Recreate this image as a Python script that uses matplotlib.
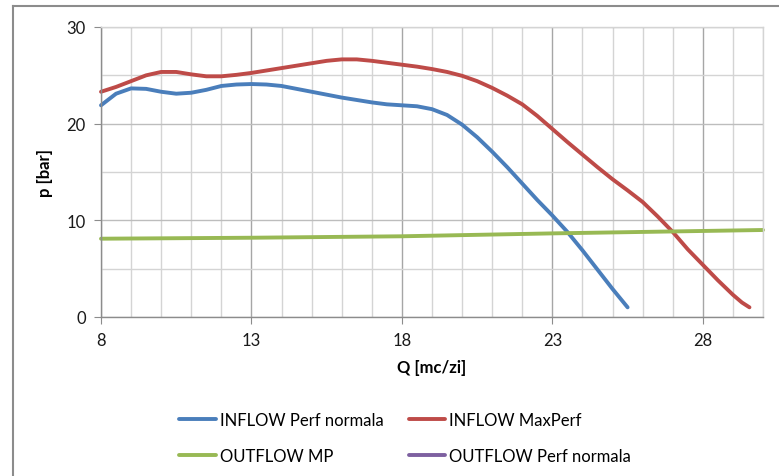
import matplotlib
matplotlib.use("Agg")
import matplotlib.pyplot as plt
from matplotlib.lines import Line2D
from matplotlib.ticker import MultipleLocator, FixedLocator

plt.rcParams['font.family'] = ['Lato', 'DejaVu Sans']

# Flow rate Q [mc/zi] and pressure p [bar]
q_inflow_normal = [8.0, 8.5, 9.0, 9.5, 10.0, 10.5, 11.0, 11.5, 12.0, 12.5, 13.0, 13.5,
                   14.0, 14.5, 15.0, 15.5, 16.0, 16.5, 17.0, 17.5, 18.0, 18.5, 19.0,
                   19.5, 20.0, 20.5, 21.0, 21.5, 22.0, 22.5, 23.0, 23.5, 24.0, 24.5,
                   25.0, 25.5]
p_inflow_normal = [21.9, 23.1, 23.65, 23.6, 23.3, 23.1, 23.2, 23.5, 23.9, 24.05, 24.1, 24.05,
                   23.9, 23.6, 23.3, 23.0, 22.7, 22.45, 22.2, 22.0, 21.9, 21.8, 21.5,
                   20.9, 19.9, 18.6, 17.1, 15.5, 13.8, 12.1, 10.5, 8.8, 6.9, 4.9,
                   2.9, 1.0]

q_inflow_max = [8.0, 8.5, 9.0, 9.5, 10.0, 10.5, 11.0, 11.5, 12.0, 12.5, 13.0, 13.5,
                14.0, 14.5, 15.0, 15.5, 16.0, 16.5, 17.0, 17.5, 18.0, 18.5, 19.0,
                19.5, 20.0, 20.5, 21.0, 21.5, 22.0, 22.5, 23.0, 23.5, 24.0, 24.5,
                25.0, 25.5, 26.0, 26.5, 27.0, 27.5, 28.0, 28.5, 29.0, 29.3, 29.55]
p_inflow_max = [23.3, 23.8, 24.4, 25.0, 25.35, 25.35, 25.1, 24.9, 24.9, 25.05, 25.25, 25.5,
                25.75, 26.0, 26.25, 26.5, 26.65, 26.65, 26.5, 26.3, 26.1, 25.9, 25.65,
                25.35, 24.95, 24.4, 23.7, 22.9, 22.0, 20.8, 19.45, 18.1, 16.8, 15.5,
                14.25, 13.1, 11.9, 10.4, 8.8, 7.0, 5.4, 3.8, 2.3, 1.5, 1.0]

q_outflow_mp = [8, 13, 18, 23, 28, 30]
p_outflow_mp = [8.1, 8.2, 8.35, 8.65, 8.9, 9.0]

q_outflow_normal = []
p_outflow_normal = []

series_labels = ["INFLOW Perf normala", "INFLOW MaxPerf",
                 "OUTFLOW MP", "OUTFLOW Perf normala"]
series_colors = ["#4A7EBB", "#BE4B48", "#98B954", "#7D60A0"]

x_ticks = [8, 13, 18, 23, 28]
y_ticks = [0, 10, 20, 30]

fig = plt.figure(figsize=(7.79, 4.77), dpi=100)
ax = fig.add_axes([101 / 779, 1 - 318 / 477, 662 / 779, 290 / 477])

# outer chart frame (top and left edges)
fig.add_artist(Line2D([12.5 / 779, 1.0], [1 - 7 / 477, 1 - 7 / 477],
                      transform=fig.transFigure, color="#8c8c8c", lw=1.5))
fig.add_artist(Line2D([12.5 / 779, 12.5 / 779], [0, 1 - 7 / 477],
                      transform=fig.transFigure, color="#8c8c8c", lw=1.5))

ax.set_xlim(8, 30)
ax.set_ylim(0, 30)
ax.xaxis.set_major_locator(FixedLocator(x_ticks))
ax.xaxis.set_minor_locator(MultipleLocator(1))
ax.yaxis.set_major_locator(FixedLocator(y_ticks))
ax.yaxis.set_minor_locator(MultipleLocator(5))

ax.grid(which="minor", color="#d4d4d4", lw=1.0)
ax.grid(which="major", axis="x", color="#a6a6a6", lw=1.0)
ax.grid(which="major", axis="y", color="#bdbdbd", lw=1.0)
ax.set_axisbelow(True)

ax.tick_params(which="major", direction="out", length=5, color="#8c8c8c",
               labelsize=12, labelcolor="#1a1a1a", pad=6)
ax.tick_params(which="minor", length=0)
for side in ("left", "bottom"):
    ax.spines[side].set_color("#8c8c8c")
    ax.spines[side].set_linewidth(1.0)
for side in ("top", "right"):
    ax.spines[side].set_color("#d4d4d4")
    ax.spines[side].set_linewidth(1.0)

data = [(q_inflow_normal, p_inflow_normal), (q_inflow_max, p_inflow_max),
        (q_outflow_mp, p_outflow_mp), (q_outflow_normal, p_outflow_normal)]
handles = []
for (q, p), lab, col in zip(data, series_labels, series_colors):
    h, = ax.plot(q, p, color=col, lw=2.8, label=lab,
                 solid_capstyle="round", solid_joinstyle="round", clip_on=False)
    handles.append(h)

ax.set_xlabel("Q [mc/zi]", fontsize=12, fontweight="bold", labelpad=8)
ax.set_ylabel("p [bar]", fontsize=12, fontweight="bold", labelpad=10)

# legend filled row by row: column-major order for ncol=2
order = [0, 2, 1, 3]
fig.legend([handles[i] for i in order], [series_labels[i] for i in order],
           ncol=2, loc="upper left", bbox_to_anchor=(179 / 779, 1 - 413 / 477),
           frameon=False, fontsize=12, handlelength=2.2, handletextpad=0.25,
           labelspacing=1.2, columnspacing=1.5, borderpad=0, borderaxespad=0)

fig.savefig("out.png", dpi=100, facecolor="white")
